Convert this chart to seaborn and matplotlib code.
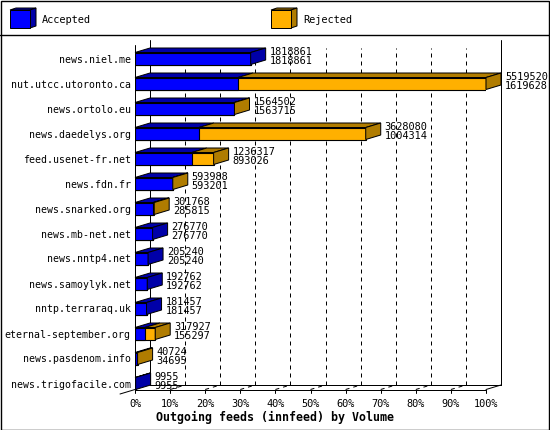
import numpy as np
import pandas as pd
import seaborn as sns
import matplotlib.pyplot as plt
import matplotlib.patches as mpatches

# innfeed outgoing feeds: total offered (top number) and accepted (bottom number)
hosts = ["news.niel.me", "nut.utcc.utoronto.ca", "news.ortolo.eu", "news.daedelys.org",
         "feed.usenet-fr.net", "news.fdn.fr", "news.snarked.org", "news.mb-net.net",
         "news.nntp4.net", "news.samoylyk.net", "nntp.terraraq.uk", "eternal-september.org",
         "news.pasdenom.info", "news.trigofacile.com"]
total = [1818861, 5519520, 1564502, 3628080, 1236317, 593988, 301768, 276770,
         205240, 192762, 181457, 317927, 40724, 9955]
accepted = [1818861, 1619628, 1563715, 1004314, 893026, 593201, 285815, 276770,
            205240, 192762, 181457, 155297, 34695, 9955]
pct_ticks = np.arange(0, 101, 10)

BLUE, BLUE_DK = "#0000ff", "#0000a8"
ORANGE, ORANGE_DK = "#ffb000", "#b07c00"
FS = 7.4

df = pd.DataFrame({"host": hosts, "total": total, "accepted": accepted})
df["total_frac"] = df["total"] / df["total"].max()
df["acc_frac"] = df["accepted"] / df["total"].max()

sns.set_style("white")
plt.rcParams["font.family"] = ["DejaVu Sans Mono", "DejaVu Sans"]
plt.rcParams["text.color"] = "black"

W, H = 550, 430
fig = plt.figure(figsize=(W / 100, H / 100), dpi=100)

# plot area in pixels (front plane)
x0, x1 = 135, 486
y_top, y_floor = 40, 389.5
row0, pitch = 58.5, 25.0
ax = fig.add_axes([x0 / W, (H - y_floor) / H, (x1 - x0) / W, (y_floor - y_top) / H])

bar_h = 12 / pitch
sns.barplot(data=df, x="total_frac", y="host", color=ORANGE, saturation=1, width=bar_h,
            edgecolor="black", linewidth=0.8, ax=ax, zorder=3)
sns.barplot(data=df, x="acc_frac", y="host", color=BLUE, saturation=1, width=bar_h,
            edgecolor="black", linewidth=0.8, ax=ax, zorder=3)

ylo = (len(hosts) - 1) + (y_floor - (row0 + (len(hosts) - 1) * pitch)) / pitch
yhi = (y_top - row0) / pitch
ax.set_xlim(0, 1)
ax.set_ylim(ylo, yhi)

# 3d depth offsets in data units
dx = 15 / (x1 - x0)
dy = 4.5 / pitch

lw = 0.72
# back wall, floor and gridlines
for t in pct_ticks[1:-1] / 100:
    ax.plot([t, t + dx], [ylo, ylo - dy], color="black", lw=lw, ls=(0, (4, 4)), clip_on=False, zorder=1)
    ax.plot([t + dx, t + dx], [ylo - dy, yhi + 0.3], color="black", lw=lw, ls=(0, (4, 4)),
            clip_on=False, zorder=1)
for t in pct_ticks / 100:
    ax.plot([t, t], [ylo, ylo + 3.5 / pitch], color="black", lw=lw, clip_on=False, zorder=1)
ax.plot([0, 1], [ylo, ylo], color="black", lw=lw, clip_on=False, zorder=1)
ax.plot([dx, 1 + dx], [ylo - dy, ylo - dy], color="black", lw=lw, clip_on=False, zorder=1)
ax.plot([1, 1 + dx], [ylo, ylo - dy], color="black", lw=lw, clip_on=False, zorder=1)
ax.plot([-dx, 0], [ylo + dy, ylo], color="black", lw=lw, clip_on=False, zorder=1)
ax.plot([0, 0], [ylo, yhi + dy], color="black", lw=lw, clip_on=False, zorder=1)
ax.plot([dx, dx], [ylo - dy, yhi], color="black", lw=lw, clip_on=False, zorder=1)
ax.plot([1 + dx, 1 + dx], [ylo - dy, yhi], color="black", lw=lw, clip_on=False, zorder=1)

# side and top faces of every bar, plus the value labels
for i, row in df.iterrows():
    top, bot = i - bar_h / 2, i + bar_h / 2
    a, e = row["acc_frac"], row["total_frac"]
    segs = [(0, a, BLUE_DK)]
    if e > a:
        segs.append((a, e, ORANGE_DK))
    for s0, s1, c in segs:
        ax.add_patch(mpatches.Polygon([(s0, top), (s0 + dx, top - dy), (s1 + dx, top - dy), (s1, top)],
                                      closed=True, fc=c, ec="black", lw=lw, zorder=4, clip_on=False))
    side_c = ORANGE_DK if e > a else BLUE_DK
    ax.add_patch(mpatches.Polygon([(e, top), (e + dx, top - dy), (e + dx, bot - dy), (e, bot)],
                                  closed=True, fc=side_c, ec="black", lw=lw, zorder=4, clip_on=False))
    ax.text(e + dx + 4 / (x1 - x0), i - 0.08, f"{row['total']}\n{row['accepted']}",
            fontsize=FS, va="center", ha="left", linespacing=0.95, zorder=5, clip_on=False)

ax.set_xticks(pct_ticks / 100)
ax.set_xticklabels([f"{p}%" for p in pct_ticks])
ax.tick_params(axis="x", length=0, pad=7, labelsize=FS, labelcolor="black")
ax.tick_params(axis="y", length=0, pad=3, labelsize=7.1, labelcolor="black")
ax.set_xlabel("")
ax.set_ylabel("")
for sp in ax.spines.values():
    sp.set_visible(False)
ax.patch.set_alpha(0)

fig.text(0.5, 1 - 417 / H, "Outgoing feeds (innfeed) by Volume", ha="center", va="center",
         fontsize=8.4, fontweight="bold")

# legend with little cubes
def cube(px, py, front, dark):
    w, h, d, e = 20, 18, 6, 2
    pts = lambda l: [(x / W, 1 - y / H) for x, y in l]
    fig.patches.append(mpatches.Polygon(pts([(px, py), (px + d, py - e), (px + w + d, py - e), (px + w, py)]),
                                        closed=True, fc=dark, ec="black", lw=lw, transform=fig.transFigure))
    fig.patches.append(mpatches.Polygon(pts([(px + w, py), (px + w + d, py - e), (px + w + d, py + h - e), (px + w, py + h)]),
                                        closed=True, fc=dark, ec="black", lw=lw, transform=fig.transFigure))
    fig.patches.append(mpatches.Rectangle((px / W, 1 - (py + h) / H), w / W, h / H,
                                          fc=front, ec="black", lw=lw, transform=fig.transFigure))

cube(10, 10, BLUE, BLUE_DK)
fig.text(42 / W, 1 - 20 / H, "Accepted", fontsize=FS, va="center")
cube(271, 10, ORANGE, ORANGE_DK)
fig.text(303 / W, 1 - 20 / H, "Rejected", fontsize=FS, va="center")

fig.add_artist(plt.Line2D([0, 1], [1 - 35 / H, 1 - 35 / H], color="black", lw=1.0, transform=fig.transFigure))
fig.patches.append(mpatches.Rectangle((0.001, 0.001), 0.998, 0.997, fill=False, ec="black", lw=1.0,
                                      transform=fig.transFigure))

fig.savefig("out.png", dpi=100)
